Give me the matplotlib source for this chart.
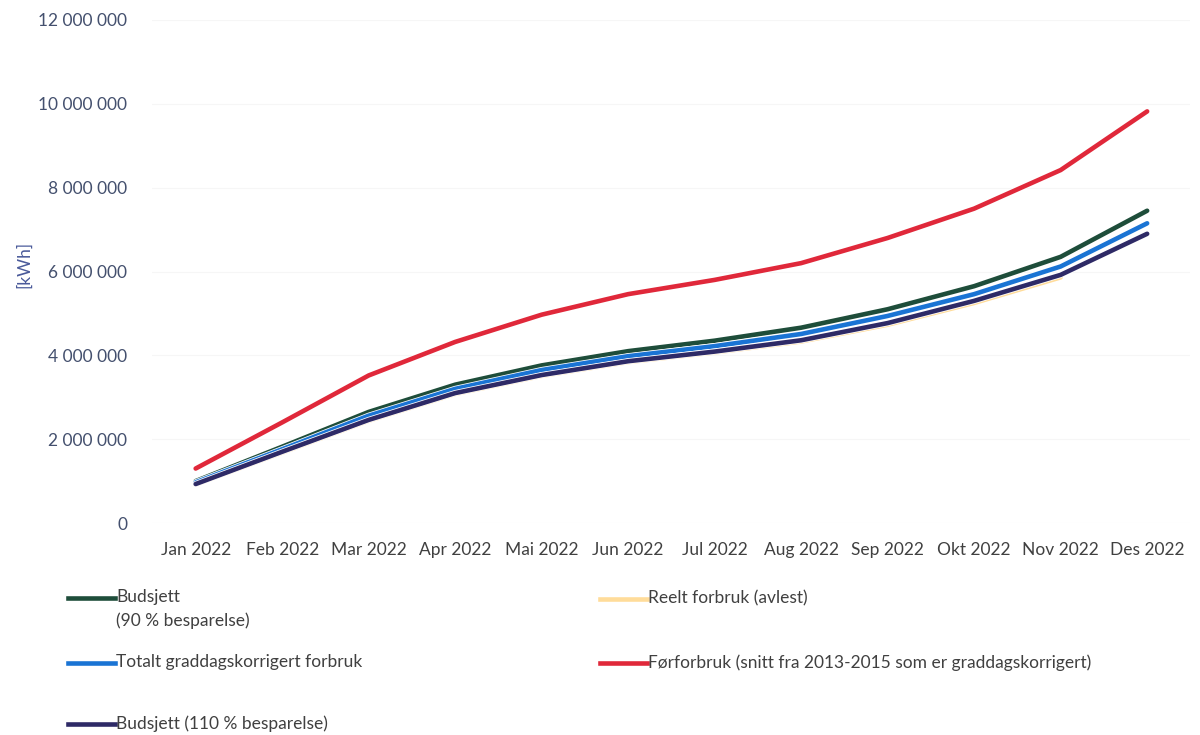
import matplotlib.pyplot as plt
import matplotlib.patheffects as pe
from matplotlib.lines import Line2D
from matplotlib.ticker import FuncFormatter
import numpy as np

months = ["Jan 2022", "Feb 2022", "Mar 2022", "Apr 2022", "Mai 2022", "Jun 2022",
          "Jul 2022", "Aug 2022", "Sep 2022", "Okt 2022", "Nov 2022", "Des 2022"]

# kWh, akkumulert
budsjett_90 = [1.00e6, 1.82e6, 2.65e6, 3.30e6, 3.76e6, 4.10e6,
               4.35e6, 4.66e6, 5.10e6, 5.65e6, 6.35e6, 7.45e6]
reelt = [0.92e6, 1.68e6, 2.44e6, 3.08e6, 3.51e6, 3.84e6,
         4.07e6, 4.33e6, 4.73e6, 5.25e6, 5.86e6, np.nan]
totalt_korr = [0.97e6, 1.76e6, 2.56e6, 3.20e6, 3.65e6, 3.98e6,
               4.22e6, 4.51e6, 4.94e6, 5.46e6, 6.12e6, 7.15e6]
forforbruk = [1.30e6, 2.40e6, 3.52e6, 4.32e6, 4.97e6, 5.46e6,
              5.80e6, 6.20e6, 6.80e6, 7.50e6, 8.42e6, 9.82e6]
budsjett_110 = [0.93e6, 1.70e6, 2.46e6, 3.10e6, 3.53e6, 3.86e6,
                4.09e6, 4.36e6, 4.77e6, 5.30e6, 5.92e6, 6.90e6]

plt.rcParams['font.family'] = ['Lato', 'DejaVu Sans']

fig = plt.figure(figsize=(12, 7.35), dpi=100)
ax = fig.add_axes([0.127, 0.2884, 0.865, 0.6844])

x = np.arange(len(months))
edge = [pe.withStroke(linewidth=4.4, foreground='white')]
series = [
    (reelt, '#ffdc9a', "Reelt forbruk (avlest)"),
    (budsjett_90, '#1e4d3a', "Budsjett\n(90 % besparelse)"),
    (totalt_korr, '#1a74d4', "Totalt graddagskorrigert forbruk"),
    (budsjett_110, '#2e2a66', "Budsjett (110 % besparelse)"),
    (forforbruk, '#e0283a', "Førforbruk (snitt fra 2013-2015 som er graddagskorrigert)"),
]
for vals, col, lab in series:
    ax.plot(x, vals, color=col, lw=3.3, solid_capstyle='round',
            path_effects=edge if col != '#ffdc9a' else None, label=lab)

ax.set_xlim(-0.5, 11.5)
ax.set_ylim(0, 12e6)
ax.set_yticks(np.arange(0, 12.1e6, 2e6))
ax.yaxis.set_major_formatter(FuncFormatter(lambda v, p: f"{int(v):,}".replace(",", " ")))
ax.set_xticks(x)
ax.set_xticklabels(months)
ax.tick_params(axis='x', length=0, pad=14, labelsize=12.5, labelcolor='#404040')
ax.tick_params(axis='y', length=0, pad=18, labelsize=12.5, labelcolor='#44506e')
ax.grid(axis='y', color='#f6f6f6', lw=0.8)
ax.set_axisbelow(True)
for s in ax.spines.values():
    s.set_visible(False)

fig.text(0.013, 0.64, "[kWh]", rotation=90, fontsize=12.5, color='#4a5a9a',
         ha='left', va='center')

# legend drawn by hand
leg_items = [
    (0.057, 0.186, '#1e4d3a', "Budsjett\n(90 % besparelse)"),
    (0.057, 0.098, '#1a74d4', "Totalt graddagskorrigert forbruk"),
    (0.057, 0.015, '#2e2a66', "Budsjett (110 % besparelse)"),
    (0.500, 0.185, '#ffdc9a', "Reelt forbruk (avlest)"),
    (0.500, 0.098, '#e0283a', "Førforbruk (snitt fra 2013-2015 som er graddagskorrigert)"),
]
for x0, y0, col, lab in leg_items:
    fig.add_artist(Line2D([x0, x0 + 0.039], [y0, y0], color=col, lw=3.3,
                          transform=fig.transFigure))
    fig.text(x0 + 0.040, y0 + 0.012, lab, fontsize=12.5, color='#404040',
             ha='left', va='top', linespacing=1.5)

fig.savefig("out.png", dpi=100)
